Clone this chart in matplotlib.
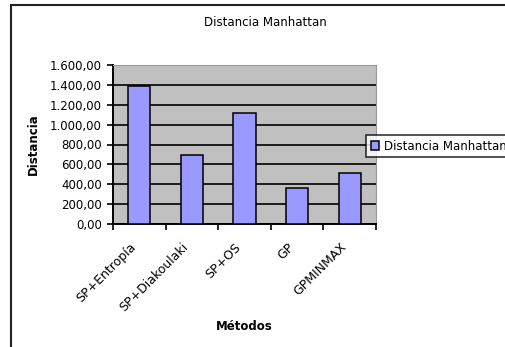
import matplotlib
matplotlib.use("Agg")
import matplotlib.pyplot as plt
from matplotlib.patches import Rectangle
from matplotlib.ticker import FuncFormatter, MultipleLocator
from matplotlib.transforms import ScaledTranslation

categories = ["SP+Entropía", "SP+Diakoulaki", "SP+OS", "GP", "GPMINMAX"]
values = [1390, 690, 1120, 360, 510]
series_name = "Distancia Manhattan"

plt.rcParams['font.family'] = ['DejaVu Sans']
W, H = 505, 347
fig = plt.figure(figsize=(W/100, H/100), dpi=100)

# outer chart border
fig.patches.append(Rectangle((11/W, -0.1), 1.2, (H-5)/H + 0.1, transform=fig.transFigure,
                             fill=False, edgecolor='#222222', linewidth=1.5, zorder=0))

ax = fig.add_axes([113/W, (H-224)/H, (376-113)/W, (224-65)/H])
ax.set_facecolor('#c0c0c0')
x = list(range(len(categories)))
ax.bar(x, values, width=0.42, color='#9999ff', edgecolor='black', linewidth=1.1,
       zorder=3, label=series_name)
ax.set_xlim(-0.5, len(categories) - 0.5)
ax.set_ylim(0, 1600)
ax.yaxis.set_major_locator(MultipleLocator(200))

def fmt(v, pos):
    s = f"{v:,.2f}"
    return s.replace(",", "X").replace(".", ",").replace("X", ".")
ax.yaxis.set_major_formatter(FuncFormatter(fmt))
ax.grid(axis='y', color='black', linewidth=1.2, zorder=1)
ax.set_axisbelow(True)

ax.set_xticks([i - 0.5 for i in range(len(categories) + 1)])
ax.set_xticklabels([])
ax.set_xticks(x, minor=True)
ax.set_xticklabels(categories, minor=True, rotation=45, ha='right', va='top',
                   rotation_mode='anchor', fontsize=9)
ax.tick_params(axis='x', which='minor', length=0, pad=12)
ax.tick_params(axis='x', which='major', length=4, width=1.2, direction='out')
ax.tick_params(axis='y', length=4, width=1.2, direction='out', labelsize=8.5, pad=4)
off = ScaledTranslation(-10/100, 0, fig.dpi_scale_trans)
for lab in ax.get_xticklabels(minor=True):
    lab.set_transform(lab.get_transform() + off)

for s in ['top', 'right']:
    ax.spines[s].set_color('#999999')
    ax.spines[s].set_linewidth(0.8)
for s in ['left', 'bottom']:
    ax.spines[s].set_color('black')
    ax.spines[s].set_linewidth(1.4)

fig.text(265/W, 1 - 23/H, "Distancia Manhattan", ha='center', va='center', fontsize=8.5)
fig.text(33/W, 1 - 144/H, "Distancia", ha='center', va='center', rotation=90,
         fontsize=8.5, fontweight='bold')
fig.text(244/W, 1 - 327/H, "Métodos", ha='center', va='center', fontsize=8.5,
         fontweight='bold')

leg = fig.legend(loc='upper left', bbox_to_anchor=(366/W, 1 - 135/H), fontsize=8.5,
                 frameon=True, fancybox=False, edgecolor='black', handlelength=0.7,
                 handleheight=0.7, handletextpad=0.4, borderpad=0.4,
                 borderaxespad=0)
leg.get_frame().set_linewidth(1.2)

fig.savefig("out.png", dpi=100)
